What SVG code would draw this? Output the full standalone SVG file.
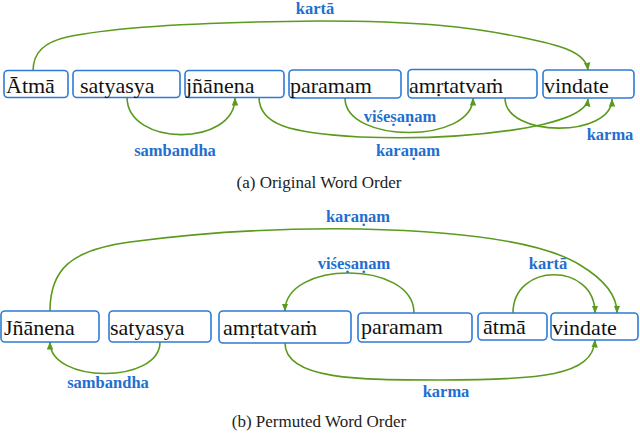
<svg xmlns="http://www.w3.org/2000/svg" width="640" height="435" viewBox="0 0 640 435">
<style>
.box{fill:#fff;stroke:#2E7AD6;stroke-width:1.6}
.w{font-size:22px;fill:#111}
.lbl{font-size:16.5px;font-weight:bold;fill:#1F6FD0;text-anchor:middle}
.cap{font-size:17px;fill:#222;text-anchor:middle}
.arc{fill:none;stroke:#5A9A1C;stroke-width:1.6;marker-end:url(#ah)}
</style>
<defs>
<marker id="ah" markerUnits="userSpaceOnUse" markerWidth="8" markerHeight="8" viewBox="0 0 8 8" refX="7.5" refY="4" orient="auto">
<path d="M0,0.8 L8,4 L0,7.2 Z" fill="#5A9A1C"/>
</marker>
</defs>
<rect width="640" height="435" fill="#fff"/>

<g id="connectors">
<path class="arc" d="M33,71 C33,52 45,42 67,37 C110,28 200,22 320,21 C420,21 470,27 520,37 C560,45 586,52 588,70"/>
<path class="arc" d="M127,97 C127,147 235,147 235,98"/>
<path class="arc" d="M259,97 C259,125 290,133 360,137 C460,141 585,128 588,99"/>
<path class="arc" d="M345,98 C345,144 473,144 473,98"/>
<path class="arc" d="M505,98 C505,138 612,138 612,99"/>

<path class="arc" d="M50,311 C50,270 70,250 130,242 C220,230 300,228 360,229 C450,231 540,240 580,265 C605,280 617,295 617,313"/>
<path class="arc" d="M414,313 C414,260 285,260 285,311"/>
<path class="arc" d="M513,313 C513,262 595,262 595,313"/>
<path class="arc" d="M160,342 C160,384 50,384 50,342"/>
<path class="arc" d="M285,343 C285,380 360,380 440,380 C540,380 593,376 595,340"/>
</g>

<g id="labels" font-family="'Liberation Serif', 'Times New Roman', serif">
<text class="lbl" x="315" y="14">kartā</text>
<text class="lbl" x="175" y="156">sambandha</text>
<text class="lbl" x="400" y="122">viśeṣaṇam</text>
<text class="lbl" x="408" y="156">karaṇam</text>
<text class="lbl" x="610" y="140">karma</text>
<text class="lbl" x="358" y="222">karaṇam</text>
<text class="lbl" x="354" y="269">viśeṣaṇam</text>
<text class="lbl" x="548" y="269">kartā</text>
<text class="lbl" x="108" y="388">sambandha</text>
<text class="lbl" x="446" y="397">karma</text>
</g>

<g id="nodes" font-family="'Liberation Serif', 'Times New Roman', serif">
<g id="a-atma"><rect class="box" x="4" y="70.5" width="64" height="27" rx="4"/><text class="w" x="6" y="93">Ātmā</text></g>
<g id="a-satyasya"><rect class="box" x="73" y="70.5" width="107" height="27" rx="4"/><text class="w" x="80" y="93">satyasya</text></g>
<g id="a-jnanena"><rect class="box" x="185" y="70.5" width="99" height="27" rx="4"/><text class="w" x="186" y="93">jñānena</text></g>
<g id="a-paramam"><rect class="box" x="289" y="70" width="112" height="28" rx="4"/><text class="w" x="290" y="93">paramam</text></g>
<g id="a-amrtatvam"><rect class="box" x="408" y="69.5" width="129" height="28.5" rx="4"/><text class="w" x="409" y="93">amṛtatvaṁ</text></g>
<g id="a-vindate"><rect class="box" x="543" y="70" width="91" height="28" rx="4"/><text class="w" x="544" y="93">vindate</text></g>

<g id="b-jnanena"><rect class="box" x="1" y="311" width="98" height="31" rx="4"/><text class="w" x="4" y="335">Jñānena</text></g>
<g id="b-satyasya"><rect class="box" x="109" y="311" width="102" height="31" rx="4"/><text class="w" x="110" y="335">satyasya</text></g>
<g id="b-amrtatvam"><rect class="box" x="219" y="311" width="132" height="32" rx="4"/><text class="w" x="223" y="335">amṛtatvaṁ</text></g>
<g id="b-paramam"><rect class="box" x="358" y="313" width="114" height="29" rx="4"/><text class="w" x="361" y="334">paramam</text></g>
<g id="b-atma"><rect class="box" x="478" y="313" width="69" height="27" rx="4"/><text class="w" x="483" y="334">ātmā</text></g>
<g id="b-vindate"><rect class="box" x="551" y="313" width="87" height="27" rx="4"/><text class="w" x="552" y="335">vindate</text></g>
</g>

<g id="captions" font-family="'Liberation Serif', 'Times New Roman', serif">
<text class="cap" x="319" y="188">(a) Original Word Order</text>
<text class="cap" x="319" y="427">(b) Permuted Word Order</text>
</g>
</svg>
